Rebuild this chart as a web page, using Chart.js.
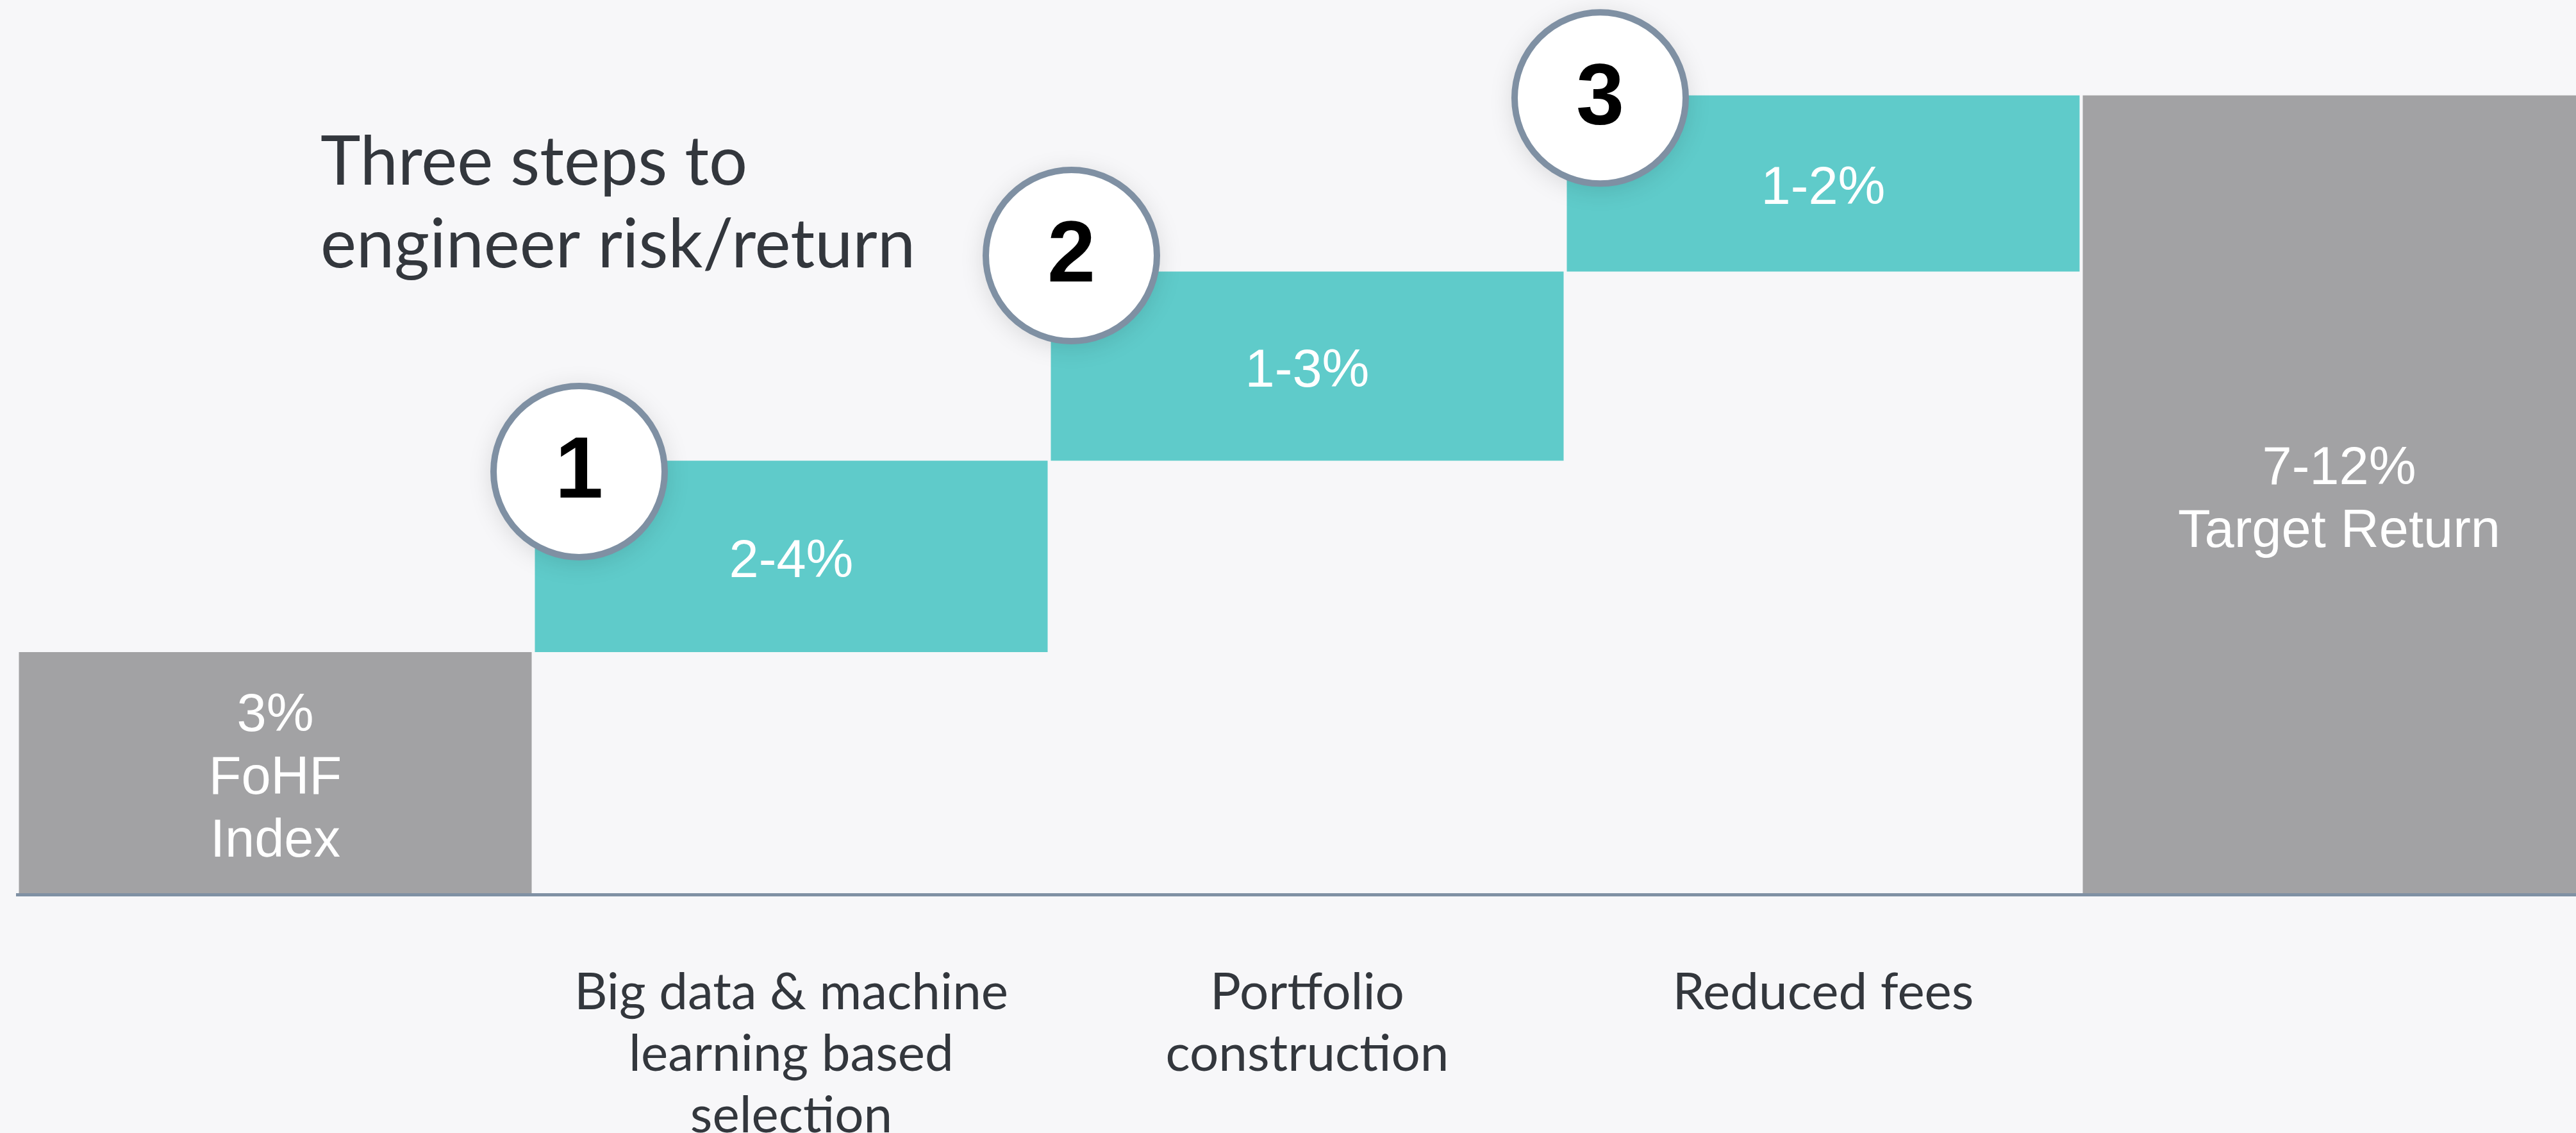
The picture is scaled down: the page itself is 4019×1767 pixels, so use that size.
<!DOCTYPE html>
<html>
<head>
<meta charset="utf-8">
<script src="https://cdn.jsdelivr.net/npm/chart.js@4.4.1/dist/chart.umd.min.js"></script>
<style>
  html, body { margin: 0; padding: 0; background: #f7f7f9; overflow: hidden; }
</style>
</head>
<body>
<canvas id="graficoPassos" width="4080" height="1767"></canvas>
<script>
  // dados
  const categorias = ['FoHF Index', 'Big data & machine learning based selection', 'Portfolio construction', 'Reduced fees', 'Target Return'];
  const inicioBarras = [0, 3, 5.37, 7.71, 0];
  const fimBarras = [3, 5.37, 7.71, 9.89, 9.89];
  const rotulosBarras = [['3%', 'FoHF', 'Index'], ['2-4%'], ['1-3%'], ['1-2%'], ['7-12%', 'Target Return']];
  const rotulosEixo = ['', ['Big data & machine', 'learning based', 'selection'], ['Portfolio', 'construction'], ['Reduced fees'], ''];
  const passos = [null, '1', '2', '3', null];
  const titulo = ['Three steps to', 'engineer risk/return'];

  const cinza = '#a2a2a4';
  const verde = '#5fcbca';
  const coresBarras = [cinza, verde, verde, verde, cinza];
  // deslocamento dos circulos em relacao ao canto superior esquerdo da barra (px)
  const desvioPassos = [null, [69, 17], [32, -25], [52, 4], null];

  const pluginTitulo = {
    id: 'titulo',
    afterDraw(chart) {
      const ctx = chart.ctx;
      ctx.save();
      ctx.font = '106px Lato';
      ctx.fillStyle = '#33373d';
      ctx.textAlign = 'left';
      ctx.textBaseline = 'alphabetic';
      titulo.forEach((linha, i) => ctx.fillText(linha, 500, 288 + i * 129));
      ctx.restore();
    }
  };

  const pluginRotulos = {
    id: 'rotulos',
    afterDatasetsDraw(chart) {
      const ctx = chart.ctx;
      const barras = chart.getDatasetMeta(0).data;
      ctx.save();
      ctx.font = '83px "Liberation Sans", Arial';
      ctx.fillStyle = '#ffffff';
      ctx.textAlign = 'center';
      ctx.textBaseline = 'middle';
      barras.forEach((b, i) => {
        const linhas = rotulosBarras[i];
        const meio = (b.y + b.base) / 2 + 9;
        const y0 = meio - (linhas.length - 1) / 2 * 98;
        linhas.forEach((l, j) => ctx.fillText(l, b.x, y0 + j * 98));
      });
      ctx.restore();
    }
  };

  const pluginPassos = {
    id: 'passos',
    afterDatasetsDraw(chart) {
      const ctx = chart.ctx;
      const barras = chart.getDatasetMeta(0).data;
      passos.forEach((p, i) => {
        if (!p) return;
        const b = barras[i];
        const cx = b.x - b.width / 2 + desvioPassos[i][0];
        const cy = b.y + desvioPassos[i][1];
        ctx.save();
        ctx.beginPath();
        ctx.arc(cx, cy, 133.5, 0, Math.PI * 2);
        ctx.shadowColor = 'rgba(0,0,0,0.15)';
        ctx.shadowBlur = 40;
        ctx.shadowOffsetY = 6;
        ctx.fillStyle = '#ffffff';
        ctx.fill();
        ctx.shadowColor = 'transparent';
        ctx.lineWidth = 10;
        ctx.strokeStyle = '#7f90a3';
        ctx.stroke();
        ctx.font = 'bold 135px "Liberation Sans", Arial';
        ctx.fillStyle = '#000000';
        ctx.textAlign = 'center';
        ctx.textBaseline = 'middle';
        ctx.fillText(p, cx, cy + 3);
        ctx.restore();
      });
    }
  };

  new Chart(document.getElementById('graficoPassos'), {
    type: 'bar',
    data: {
      labels: rotulosEixo,
      datasets: [{
        label: 'Return',
        data: inicioBarras.map((v, i) => [v, fimBarras[i]]),
        backgroundColor: coresBarras,
        borderWidth: 0,
        borderSkipped: false,
        barPercentage: 800 / 805,
        categoryPercentage: 1
      }]
    },
    options: {
      responsive: false,
      animation: false,
      layout: { padding: { left: 27, right: 28, top: 9, bottom: 0 } },
      plugins: {
        legend: { display: false },
        tooltip: { enabled: false }
      },
      scales: {
        x: {
          offset: true,
          grid: { display: false },
          border: { display: true, color: '#8091a4', width: 5, z: 1 },
          ticks: {
            color: '#33373d',
            font: { family: 'Lato', size: 80, lineHeight: 1.2 },
            padding: 97,
            maxRotation: 0,
            autoSkip: false
          },
          afterFit(scale) { scale.height = 372; }
        },
        y: { display: false, min: 0, max: 11 }
      }
    },
    plugins: [pluginTitulo, pluginRotulos, pluginPassos]
  });
</script>
</body>
</html>
